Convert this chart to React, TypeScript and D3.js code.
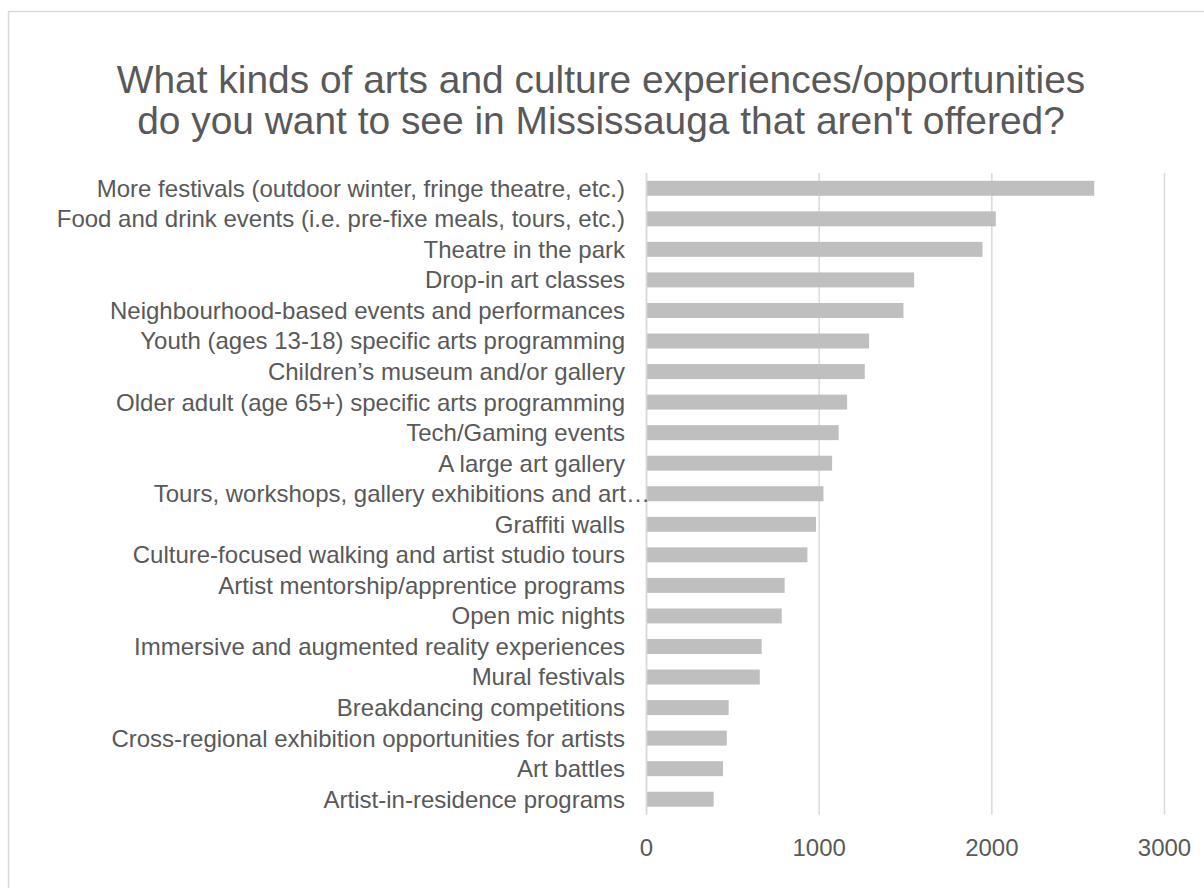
import React from "react";
import * as d3 from "d3";

const categories: string[] = [
  "More festivals (outdoor winter, fringe theatre, etc.)",
  "Food and drink events (i.e. pre-fixe meals, tours, etc.)",
  "Theatre in the park",
  "Drop-in art classes",
  "Neighbourhood-based events and performances",
  "Youth (ages 13-18) specific arts programming",
  "Children’s museum and/or gallery",
  "Older adult (age 65+) specific arts programming",
  "Tech/Gaming events",
  "A large art gallery",
  "Tours, workshops, gallery exhibitions and art…",
  "Graffiti walls",
  "Culture-focused walking and artist studio tours",
  "Artist mentorship/apprentice programs",
  "Open mic nights",
  "Immersive and augmented reality experiences",
  "Mural festivals",
  "Breakdancing competitions",
  "Cross-regional exhibition opportunities for artists",
  "Art battles",
  "Artist-in-residence programs",
];

const values: number[] = [
  2593, 2023, 1946, 1550, 1488, 1289, 1264, 1162, 1113, 1075, 1025,
  982, 932, 800, 783, 667, 656, 476, 465, 443, 389,
];

const xTicks: number[] = [0, 1000, 2000, 3000];

const titleLines: string[] = [
  "What kinds of arts and culture experiences/opportunities",
  "do you want to see in Mississauga that aren't offered?",
];

const W = 1204;
const H = 888;
const plotLeft = 646.5;
const plotRight = 1164.5;
const plotTop = 173;
const plotBottom = 814.5;
const textColor = "#595959";
const gridColor = "#d9d9d9";
const font = "'Liberation Sans', Arial, sans-serif";

export default function App() {
  const x = d3.scaleLinear().domain([0, 3000]).range([plotLeft, plotRight]);
  const y = d3
    .scaleBand<string>()
    .domain(categories)
    .range([plotTop, plotBottom])
    .paddingInner(0.51)
    .paddingOuter(0.255);

  return (
    <svg
      width={W}
      height={H}
      style={{ position: "absolute", left: 0, top: 0, display: "block" }}
      fontFamily={font}
    >
      <rect x={0} y={0} width={W} height={H} fill="#ffffff" />
      <rect
        x={8.5}
        y={11.5}
        width={1400}
        height={1000}
        fill="none"
        stroke={gridColor}
        strokeWidth={1.5}
      />
      {titleLines.map((t, i) => (
        <text
          key={i}
          x={601}
          y={93 + i * 41}
          textAnchor="middle"
          fontSize={38.9}
          fill={textColor}
        >
          {t}
        </text>
      ))}
      {xTicks.map((t) => (
        <line
          key={"g" + t}
          x1={x(t)}
          x2={x(t)}
          y1={plotTop}
          y2={plotBottom}
          stroke={gridColor}
          strokeWidth={1.5}
        />
      ))}
      {categories.map((c, i) => (
        <rect
          key={"b" + i}
          x={x(0)}
          y={y(c)!}
          width={x(values[i]) - x(0)}
          height={y.bandwidth()}
          fill="#bfbfbf"
        />
      ))}
      <line
        x1={x(0)}
        x2={x(0)}
        y1={plotTop}
        y2={plotBottom}
        stroke={gridColor}
        strokeWidth={1.5}
      />
      {categories.map((c, i) => {
        const truncated = c.endsWith("…");
        return (
          <text
            key={"l" + i}
            x={truncated ? 650 : 625}
            y={y(c)! + y.bandwidth() / 2}
            dy="0.35em"
            textAnchor="end"
            fontSize={24}
            fill={textColor}
          >
            {c}
          </text>
        );
      })}
      {xTicks.map((t) => (
        <text
          key={"t" + t}
          x={x(t)}
          y={856}
          textAnchor="middle"
          fontSize={24}
          fill={textColor}
        >
          {t}
        </text>
      ))}
    </svg>
  );
}
